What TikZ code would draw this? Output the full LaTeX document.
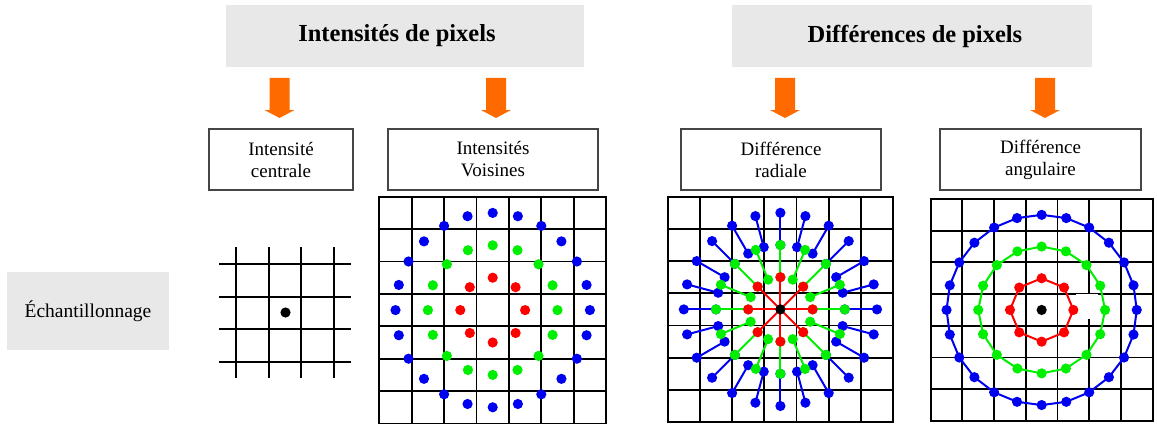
\documentclass[tikz,border=0pt]{standalone}
\usepackage{fontspec}
\setmainfont{Liberation Serif}
\definecolor{hdrgray}{HTML}{E8E8E8}
\definecolor{arrorange}{HTML}{FF6A00}
\definecolor{pblue}{HTML}{0000F0}
\definecolor{pgreen}{HTML}{00EE00}
\definecolor{pred}{HTML}{FF0000}
\definecolor{boxline}{HTML}{454545}
\tikzset{
  hdrbox/.style={fill=hdrgray, draw=none, minimum width=358pt, minimum height=62pt, inner sep=0pt},
  hdrtext/.style={font=\fontsize{24.5}{28}\selectfont\bfseries, inner sep=0pt},
  subbox/.style={draw=boxline, line width=1.1pt, fill=white, minimum height=61pt, inner sep=0pt,
     align=center, font=\fontsize{19}{22}\selectfont},
  sidebox/.style={fill=hdrgray, minimum width=162pt, minimum height=78pt, inner sep=0pt,
     font=\fontsize{19.5}{22}\selectfont},
  gridline/.style={line width=1.9pt, black, line cap=rect},
  ringline/.style={line width=2pt},
  blockarrow/.style={fill=arrorange, draw=none}
}
\newcommand{\dr}{5.1pt}
\begin{document}
\begin{tikzpicture}[x=1pt,y=-1pt]
\useasboundingbox (0,0) rectangle (1157,428);

% headers
\node[hdrbox] (hdrA) at (405,36) {};
\node[hdrtext] (hdrAtxt) at (397,36) {Intensités de pixels};
\node[hdrbox, minimum width=360pt] (hdrB) at (912,36) {};
\node[hdrtext] (hdrBtxt) at (915,36) {Différences de pixels};

% side label
\node[sidebox] (side) at (88,311) {Échantillonnage};

% sub boxes
\node[subbox, minimum width=144pt] (b1) at (281,159.5) {Intensité\\centrale};
\node[subbox, minimum width=210pt] (b2) at (493,159.5) {Intensités\\Voisines};
\node[subbox, minimum width=200pt] (b3) at (781,159.5) {Différence\\radiale};
\node[subbox, minimum width=201pt] (b4) at (1040.5,159.5) {Différence\\angulaire};

% block arrows
\foreach \ax in {279.5,496,785,1045} {
  \fill[blockarrow] ({\ax-10},78) -- ({\ax+10},78) -- ({\ax+10},110) -- ({\ax+15},110)
     -- (\ax,118) -- ({\ax-15},110) -- ({\ax-10},110) -- cycle;
}

% ---------- Grid 1: central intensity ----------
\coordinate (c1) at (285.5,312.5);
\foreach \v in {236.25,268.75,301.25,333.75} {
  \draw[gridline, line cap=butt] (\v,247) -- (\v,378);
}
\foreach \h in {264.25,296.75,329.25,361.75} {
  \draw[gridline, line cap=butt] (219,\h) -- (351,\h);
}
\fill[black] (c1) circle[radius=\dr];

% ---------- Grid 2: neighbour intensities ----------
\def\gx{379.3}\def\gy{196.7}\def\gc{32.4}
\coordinate (c2) at ({\gx+3.5*\gc},{\gy+3.5*\gc});
\foreach \i in {0,...,7} {
  \draw[gridline] ({\gx+\i*\gc},\gy) -- ({\gx+\i*\gc},{\gy+7*\gc});
  \draw[gridline] (\gx,{\gy+\i*\gc}) -- ({\gx+7*\gc},{\gy+\i*\gc});
}
\begin{scope}[shift={(c2)}]
  \foreach \k in {0,...,7}  \fill[pred]   ({\k*45}:{\gc}) circle[radius=\dr];
  \foreach \k in {0,...,15} \fill[pgreen] ({\k*22.5}:{2*\gc}) circle[radius=\dr];
  \foreach \k in {0,...,23} \fill[pblue]  ({\k*15}:{3*\gc}) circle[radius=\dr];
\end{scope}

% ---------- Grid 3: radial difference ----------
\def\hx{667.7}\def\hy{196.7}\def\hc{32.2}
\coordinate (c3) at ({\hx+3.5*\hc},{\hy+3.5*\hc});
\foreach \i in {0,...,7} {
  \draw[gridline] ({\hx+\i*\hc},\hy) -- ({\hx+\i*\hc},{\hy+7*\hc});
  \draw[gridline] (\hx,{\hy+\i*\hc}) -- ({\hx+7*\hc},{\hy+\i*\hc});
}
\begin{scope}[shift={(c3)}]
  \foreach \k in {0,...,23} {
    \draw[ringline, pblue] ({\k*15}:{3*\hc}) -- ({\k*15}:{2*\hc});
    \fill[pblue] ({\k*15}:{3*\hc}) circle[radius=\dr];
    \fill[pblue] ({\k*15}:{2*\hc}) circle[radius=\dr];
  }
  \foreach \k in {0,...,15} {
    \draw[ringline, pgreen] ({\k*22.5}:{2*\hc}) -- ({\k*22.5}:{\hc});
    \fill[pgreen] ({\k*22.5}:{2*\hc}) circle[radius=\dr];
    \fill[pgreen] ({\k*22.5}:{\hc}) circle[radius=\dr];
  }
  \foreach \k in {0,...,7} {
    \draw[ringline, pred] ({\k*45}:{\hc}) -- (0,0);
    \fill[pred] ({\k*45}:{\hc}) circle[radius=\dr];
  }
  \fill[black] (0,0) circle[radius=\dr];
\end{scope}

% ---------- Grid 4: angular difference ----------
\def\jx{930.7}\def\jy{199}\def\jc{31.7}
\coordinate (c4) at ({\jx+3.5*\jc},{\jy+3.5*\jc});
\foreach \i in {0,...,7} {
  \draw[gridline] ({\jx+\i*\jc},\jy) -- ({\jx+\i*\jc},{\jy+7*\jc});
  \draw[gridline] (\jx,{\jy+\i*\jc}) -- ({\jx+7*\jc},{\jy+\i*\jc});
}
\fill[white] (1076,293.5) rectangle (1098,319);
\begin{scope}[shift={(c4)}]
  \draw[ringline, pblue] (0:{3*\jc}) \foreach \k in {1,...,23} { -- ({\k*15}:{3*\jc}) } -- cycle;
  \foreach \k in {0,...,23} \fill[pblue] ({\k*15}:{3*\jc}) circle[radius=\dr];
  \draw[ringline, pgreen] (0:{2*\jc}) \foreach \k in {1,...,15} { -- ({\k*22.5}:{2*\jc}) } -- cycle;
  \foreach \k in {0,...,15} \fill[pgreen] ({\k*22.5}:{2*\jc}) circle[radius=\dr];
  \draw[ringline, pred] (0:{\jc}) \foreach \k in {1,...,7} { -- ({\k*45}:{\jc}) } -- cycle;
  \foreach \k in {0,...,7} \fill[pred] ({\k*45}:{\jc}) circle[radius=\dr];
  \fill[black] (0,0) circle[radius=\dr];
\end{scope}
\end{tikzpicture}
\end{document}
